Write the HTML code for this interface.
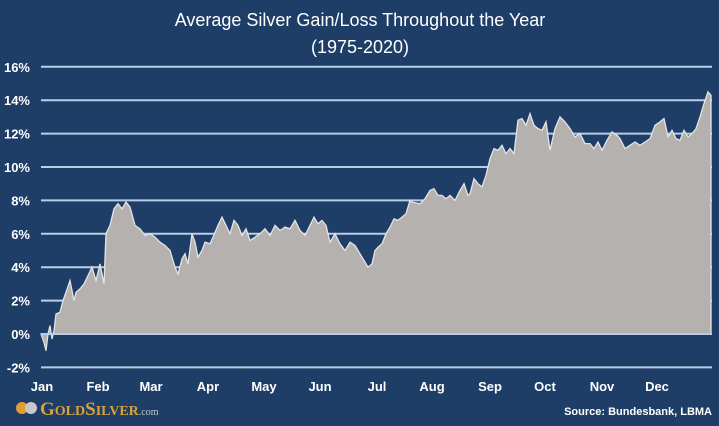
<!DOCTYPE html>
<html><head><meta charset="utf-8"><style>
html,body{margin:0;padding:0;background:#1e3e68;}
svg{display:block;}
text{font-family:"Liberation Sans Narrow","Liberation Sans",sans-serif;}
</style></head><body>
<svg id="s" width="719" height="426" viewBox="0 0 719 426" xmlns="http://www.w3.org/2000/svg">
<rect width="719" height="426" fill="#1e3e68"/>
<text x="360" y="26" fill="#fff" font-size="18" text-anchor="middle">Average Silver Gain/Loss Throughout the Year</text>
<text x="360" y="53" fill="#fff" font-size="18" text-anchor="middle">(1975-2020)</text>
<g id="grid" stroke="#b8cde6" stroke-width="2"></g>
<path id="area" fill="#b5b1ae" stroke="#e4e4e6" stroke-width="1.3"/>
<line x1="41" y1="334" x2="712" y2="334" stroke="#b8cde6" stroke-width="2"/>
<g id="ylab" fill="#fff" font-size="13" font-weight="bold" text-anchor="end"></g>
<g fill="#fff" font-size="13" font-weight="bold" text-anchor="middle">
<text x="42" y="391">Jan</text><text x="98" y="391">Feb</text><text x="151" y="391">Mar</text>
<text x="208" y="391">Apr</text><text x="264" y="391">May</text><text x="320" y="391">Jun</text>
<text x="377" y="391">Jul</text><text x="432" y="391">Aug</text><text x="490" y="391">Sep</text>
<text x="545" y="391">Oct</text><text x="602" y="391">Nov</text><text x="657" y="391">Dec</text>
</g>
<circle cx="22" cy="408" r="6" fill="#e0a030"/><circle cx="31" cy="408" r="6" fill="#c8c8c8"/>
<text x="40" y="415" fill="#d9a23a" style="font-family:'Liberation Serif',serif" font-size="19" font-weight="bold">G<tspan font-size="14">OLD</tspan>S<tspan font-size="14">ILVER</tspan><tspan font-size="10" fill="#c8c8c8" font-weight="normal">.com</tspan></text>
<text x="712" y="415" fill="#fff" font-size="11" font-weight="bold" text-anchor="end">Source: Bundesbank, LBMA</text>
</svg>
<script>
var Y=function(v){return 334-16.7*v;};
var g=document.getElementById('grid'),yl=document.getElementById('ylab'),ns="http://www.w3.org/2000/svg";
for(var v=-2;v<=16;v+=2){var l=document.createElementNS(ns,'line');l.setAttribute('x1',41);l.setAttribute('x2',712);l.setAttribute('y1',Y(v));l.setAttribute('y2',Y(v));g.appendChild(l);
var t=document.createElementNS(ns,'text');t.setAttribute('x',30);t.setAttribute('y',Y(v)+5);t.textContent=v+'%';yl.appendChild(t);}
var d=[41,0,44,-0.5,46,-1,48,0,50,0.5,52,-0.3,54,0.2,56,1.2,60,1.3,63,2,66,2.5,70,3.2,74,2,76,2.5,80,2.7,84,3,88,3.5,92,4,96,3.2,100,4.2,104,3,106,6,110,6.5,114,7.5,118,7.8,122,7.5,126,7.9,130,7.6,135,6.5,140,6.3,145,5.9,150,6,155,5.8,160,5.5,165,5.3,170,5,175,4,178,3.6,182,4.5,185,4.8,188,4.2,192,6,195,5.5,198,4.6,202,5,205,5.5,210,5.4,213,5.8,218,6.5,222,7,226,6.5,230,6,234,6.8,238,6.5,242,5.9,246,6.3,250,5.6,255,5.8,260,6,265,6.3,270,5.9,275,6.5,280,6.2,285,6.4,290,6.3,295,6.8,300,6.2,305,5.9,310,6.5,314,7,318,6.6,322,6.8,326,6.5,330,5.5,335,6,340,5.4,345,5,350,5.5,355,5.3,360,4.8,364,4.4,368,4,372,4.2,375,5,378,5.2,382,5.4,386,6,390,6.4,394,6.9,398,6.8,402,7,406,7.2,410,8,412,7.9,420,7.8,425,8.1,430,8.6,434,8.7,438,8.3,442,8.3,446,8.1,450,8.3,455,8.0,460,8.6,464,9,468,8.3,470,8.4,474,9.3,478,9,482,8.8,486,9.5,490,10.5,494,11.1,498,11,502,11.3,506,10.8,510,11.1,514,10.8,518,12.8,522,12.9,526,12.5,530,13.2,534,12.5,538,12.3,542,12.2,546,12.7,550,11,555,12.3,560,13,565,12.7,570,12.3,575,11.8,580,12,585,11.4,590,11.4,594,11.1,598,11.5,602,11,607,11.6,612,12.1,617,11.9,620,11.7,625,11.1,630,11.3,635,11.5,640,11.3,645,11.5,650,11.7,655,12.5,660,12.7,664,12.9,668,11.8,672,12.2,676,11.7,680,11.6,684,12.2,688,11.8,692,12,696,12.3,700,13,704,13.8,708,14.5,711,14.3,711,12];
var p='M41,334';for(var i=0;i<d.length;i+=2){p+=' L'+d[i]+','+Y(d[i+1]).toFixed(1);}p+=' L711,334 Z';
document.getElementById('area').setAttribute('d',p);
</script>
</body></html>
